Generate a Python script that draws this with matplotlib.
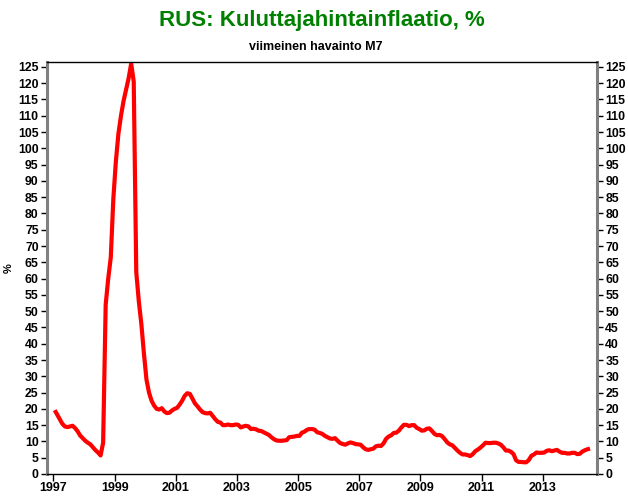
import numpy as np
import matplotlib
matplotlib.use("Agg")
import matplotlib.pyplot as plt

# Monthly CPI inflation, % y/y, Jan 1997 - Jul 2014
inflation = [
    # 1997
    19.6, 18.2, 16.8, 15.4, 14.6, 14.4, 14.6, 14.8, 14.1, 13.1, 11.8, 11.0,
    # 1998
    10.2, 9.6, 9.1, 8.2, 7.3, 6.6, 5.7, 9.6, 52.0, 60.0, 66.5, 84.5,
    # 1999
    96.0, 104.5, 110.0, 114.5, 118.0, 121.5, 126.0, 120.5, 62.0, 53.0, 46.0, 37.0,
    # 2000
    29.0, 25.0, 22.5, 21.0, 20.0, 19.8, 20.2, 19.2, 18.7, 18.8, 19.5, 20.0,
    # 2001
    20.3, 21.3, 22.5, 24.0, 24.8, 24.6, 23.2, 21.7, 20.8, 19.8, 19.0, 18.7,
    # 2002
    18.6, 18.8, 17.8, 16.8, 16.0, 15.8, 15.0, 15.0, 15.2, 15.0, 15.0, 15.2,
    # 2003
    15.1, 14.3, 14.6, 14.8, 14.6, 13.8, 13.9, 13.7, 13.3, 13.2, 12.8, 12.4,
    # 2004
    12.0, 11.3, 10.7, 10.3, 10.2, 10.2, 10.3, 10.4, 11.3, 11.4, 11.5, 11.7,
    # 2005
    11.7, 12.7, 13.0, 13.6, 13.8, 13.8, 13.6, 12.8, 12.6, 12.3, 11.7, 11.3,
    # 2006
    10.9, 10.8, 11.0, 10.2, 9.5, 9.2, 9.0, 9.4, 9.7, 9.5, 9.2, 9.1,
    # 2007
    9.0, 8.2, 7.6, 7.4, 7.6, 7.8, 8.5, 8.7, 8.6, 9.4, 10.8, 11.5,
    # 2008
    11.9, 12.6, 12.7, 13.3, 14.3, 15.1, 15.1, 14.7, 15.0, 15.0, 14.2, 13.8,
    # 2009
    13.3, 13.4, 13.9, 14.0, 13.2, 12.3, 11.9, 12.0, 11.6, 10.7, 9.7, 9.1,
    # 2010
    8.8, 8.0, 7.2, 6.5, 6.0, 6.0, 5.8, 5.5, 6.1, 7.0, 7.5, 8.1,
    # 2011
    8.8, 9.6, 9.5, 9.5, 9.6, 9.6, 9.4, 9.0, 8.2, 7.2, 7.2, 6.8,
    # 2012
    6.1, 4.2, 3.7, 3.7, 3.6, 3.6, 4.3, 5.6, 6.0, 6.6, 6.5, 6.5,
    # 2013
    6.6, 7.1, 7.3, 7.0, 7.2, 7.4, 6.9, 6.5, 6.5, 6.3, 6.3, 6.5,
    # 2014
    6.5, 6.1, 6.2, 6.9, 7.3, 7.6, 7.8,
]
start_year = 1997
year_ticks = list(range(1997, 2015, 2))
y_ticks = list(range(0, 130, 5))

title = "RUS: Kuluttajahintainflaatio, %"
subtitle = "viimeinen havainto M7"

plt.rcParams["font.family"] = ["Liberation Sans", "DejaVu Sans"]
plt.rcParams["font.weight"] = "bold"

months = np.arange(len(inflation))
x = start_year + (months + 0.5) / 12

fig = plt.figure(figsize=(6.28, 4.96), dpi=100)
ax = fig.add_axes([47 / 628, 22 / 496, 550 / 628, 412 / 496])

ax.plot(x, inflation, color="#ff0000", linewidth=3, solid_capstyle="butt")

ax.set_xlim(1996.79, 2014.77)
ax.set_ylim(0, 126.5)
ax.set_xticks(year_ticks)
ax.set_xticklabels([str(y) for y in year_ticks], fontsize=9, fontweight="bold")
ax.set_yticks(y_ticks)
ax.set_yticklabels([str(v) for v in y_ticks], fontsize=8.8, fontweight="bold")
ax.tick_params(axis="y", which="both", left=True, right=True,
               labelleft=True, labelright=True, direction="out",
               length=4, width=1, pad=2)
ax.tick_params(axis="x", direction="out", length=5, width=1, pad=1)

for side in ("left", "right"):
    ax.spines[side].set_color("#808080")
    ax.spines[side].set_linewidth(2.2)
for side in ("top", "bottom"):
    ax.spines[side].set_color("black")
    ax.spines[side].set_linewidth(1.0)

ax.set_ylabel("%", fontsize=8, fontweight="bold", labelpad=3)

fig.text(0.513, 0.958, title, ha="center", va="center",
         fontsize=16, fontweight="bold", color="#008000")
fig.text(0.502, 0.905, subtitle, ha="center", va="center",
         fontsize=9, fontweight="bold", color="black")

fig.savefig("out.png", dpi=100)
